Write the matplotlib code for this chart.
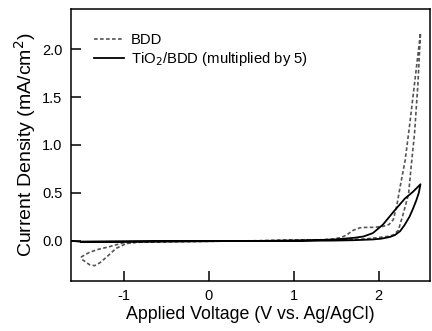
import matplotlib
matplotlib.use("Agg")
import matplotlib.pyplot as plt
from matplotlib.ticker import FormatStrFormatter

plt.rcParams["font.family"] = ["Liberation Sans", "DejaVu Sans"]
plt.rcParams["axes.unicode_minus"] = False

# BDD cyclic voltammogram (forward then return)
bdd_v = [-1.5, -1.4, -1.3, -1.16, -1.0, -0.5, 0.0, 0.5, 1.0, 1.3, 1.46, 1.56, 1.62, 1.7,
         1.78, 1.85, 1.93, 2.05, 2.12, 2.17, 2.21, 2.25, 2.31, 2.36, 2.42, 2.49,
         2.46, 2.42, 2.38, 2.35, 2.29, 2.23, 2.17, 2.1, 2.01, 1.85, 1.7, 1.4, 1.07,
         0.5, 0.0, -0.5, -0.85, -0.97, -1.09, -1.2, -1.28, -1.34, -1.4, -1.48, -1.5]
bdd_j = [-0.17, -0.12, -0.09, -0.06, -0.02, -0.008, -0.005, -0.002, 0.005, 0.01, 0.018, 0.035, 0.06, 0.11,
         0.136, 0.14, 0.14, 0.15, 0.17, 0.22, 0.36, 0.56, 0.84, 1.19, 1.64, 2.17,
         1.64, 1.12, 0.77, 0.49, 0.29, 0.11, 0.06, 0.045, 0.035, 0.02, 0.014, 0.01, 0.007,
         0.0, -0.005, -0.008, -0.015, -0.03, -0.08, -0.17, -0.23, -0.26, -0.25, -0.2, -0.17]

# TiO2/BDD (multiplied by 5)
tio2_v = [-1.62, -1.5, -1.0, -0.5, 0.0, 0.5, 1.0, 1.3, 1.5, 1.62, 1.72, 1.82, 1.93, 2.05, 2.17, 2.306, 2.4, 2.49,
          2.47, 2.44, 2.4, 2.36, 2.3, 2.25, 2.19, 2.13, 2.03, 1.93, 1.7, 1.46, 1.0, 0.5, 0.0, -0.5, -1.0, -1.5]
tio2_j = [0.0, -0.01, -0.008, -0.006, -0.004, -0.002, 0.002, 0.007, 0.015, 0.024, 0.032, 0.045, 0.08, 0.17, 0.3, 0.44, 0.51, 0.59,
          0.5, 0.42, 0.33, 0.25, 0.16, 0.1, 0.06, 0.04, 0.022, 0.014, 0.006, 0.002, 0.0, -0.002, -0.004, -0.006, -0.008, -0.01]

xticks = [-1, 0, 1, 2]
yticks = [0.0, 0.5, 1.0, 1.5, 2.0]

fig = plt.figure(figsize=(4.32, 3.31), dpi=100)
ax = fig.add_axes([0.164, 0.151, 0.831, 0.822])

ax.plot(bdd_v, bdd_j, color="#555555", linestyle=(0, (2.2, 1.4)), linewidth=1.2, label="BDD")
ax.plot(tio2_v, tio2_j, color="black", linewidth=1.3, label="TiO$_2$/BDD (multiplied by 5)")

ax.set_xlim(-1.62, 2.6)
ax.set_ylim(-0.42, 2.42)
ax.set_xticks(xticks)
ax.set_yticks(yticks)
ax.yaxis.set_major_formatter(FormatStrFormatter("%.1f"))
ax.tick_params(direction="in", length=7.5, width=1.1, labelsize=10.5, pad=6)
for s in ax.spines.values():
    s.set_linewidth(1.1)

ax.set_xlabel("Applied Voltage (V vs. Ag/AgCl)", fontsize=12.8, labelpad=2)
ax.set_ylabel("Current Density (mA/cm$^2$)", fontsize=14, labelpad=3)

ax.legend(loc="upper left", frameon=False, fontsize=10.7, handlelength=2.0,
          handletextpad=0.5, borderpad=0, borderaxespad=0, labelspacing=0.2,
          bbox_to_anchor=(0.064, 0.91))

fig.savefig("out.png", dpi=100)
